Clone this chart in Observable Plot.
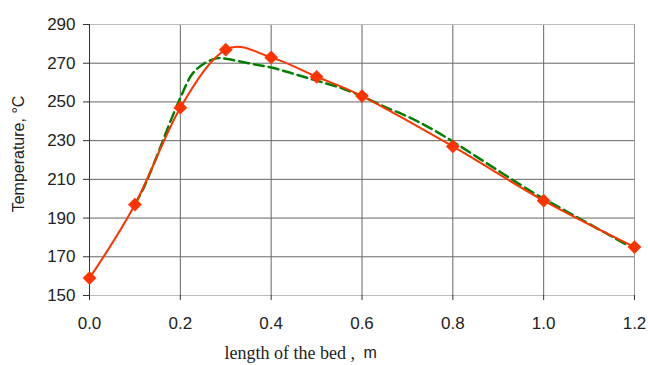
<!DOCTYPE html>
<html>
<head>
<meta charset="utf-8">
<script src="https://cdn.jsdelivr.net/npm/d3@7"></script>
<script src="https://cdn.jsdelivr.net/npm/@observablehq/plot@0.6"></script>
<style>
  html, body { margin: 0; padding: 0; background: white; }
</style>
</head>
<body>
<div id="chart"></div>
<script>
const xTicks = [0, 0.2, 0.4, 0.6, 0.8, 1.0, 1.2];
const yTicks = [150, 170, 190, 210, 230, 250, 270, 290];

// measured temperatures (red diamonds)
const measuredX = [0, 0.1, 0.2, 0.3, 0.4, 0.5, 0.6, 0.8, 1.0, 1.2];
const measuredT = [159, 197, 247, 277, 273, 263, 253, 227, 199, 175];

// model curve (green dashed)
const modelX = [0.1, 0.12, 0.15, 0.18, 0.2, 0.225, 0.25, 0.28, 0.3, 0.35, 0.4, 0.45, 0.5, 0.55, 0.6, 0.65, 0.7, 0.75, 0.8, 0.85, 0.9, 0.95, 1.0, 1.05, 1.1, 1.15, 1.2];
const modelT = [197, 206, 223, 241, 252, 264, 269.5, 272.5, 272.3, 270, 267.8, 264.5, 261, 257.5, 253, 247.5, 242.5, 236.5, 229.5, 222, 214.5, 207, 200, 193.5, 187, 180.5, 174];

const xLabel = "length of the bed ,";
const xUnit = "m";
const yLabel = "Temperature, °C";

const measured = measuredX.map((x, i) => ({x, t: measuredT[i]}));
const model = modelX.map((x, i) => ({x, t: modelT[i]}));

const chart = Plot.plot({
  width: 648,
  height: 365,
  marginLeft: 89,
  marginRight: 14,
  marginTop: 24,
  marginBottom: 70,
  x: {domain: [0, 1.2]},
  y: {domain: [150, 290]},
  style: {fontFamily: "'Liberation Sans', Arial, sans-serif", fontSize: "17px", color: "#222", background: "white"},
  marks: [
    Plot.ruleY(yTicks.filter(d => d > 150 && d < 290), {stroke: "#666", strokeWidth: 1}),
    Plot.ruleX(xTicks.filter(d => d > 0 && d < 1.2), {stroke: "#666", strokeWidth: 1}),
    Plot.ruleY([290], {stroke: "#bbb"}),
    Plot.ruleY([150], {stroke: "#bbb"}),
    Plot.ruleX([1.2], {stroke: "#999"}),
    Plot.ruleX([0], {stroke: "#333"}),
    Plot.axisY({ticks: yTicks, tickSize: 6, tickPadding: 8, label: null, stroke: "#333", fill: "#222", fontSize: 17}),
    Plot.axisX({ticks: xTicks, tickSize: 5, tickPadding: 16, tickFormat: d => d.toFixed(1), label: null, stroke: "#333", fill: "#222", fontSize: 17}),
    Plot.line(model, {x: "x", y: "t", stroke: "#008000", strokeWidth: 2.5, strokeDasharray: "10,5", curve: "catmull-rom"}),
    Plot.line(measured, {x: "x", y: "t", stroke: "#ff3300", strokeWidth: 2, curve: "cardinal", tension: 0}),
    Plot.dot(measured, {x: "x", y: "t", symbol: "diamond2", r: 6.2, fill: "#ff3300", stroke: "none"}),
    Plot.text([yLabel], {frameAnchor: "left", dx: -71, dy: -6, rotate: -90, textAnchor: "middle", lineAnchor: "middle", fontSize: 16, fill: "#222"}),
    Plot.text([xLabel], {frameAnchor: "bottom-left", dx: 135, dy: 58, textAnchor: "start", lineAnchor: "middle", fontFamily: "'Liberation Serif', 'Times New Roman', serif", fontSize: 18, fill: "#222"}),
    Plot.text([xUnit], {frameAnchor: "bottom-left", dx: 274, dy: 57, textAnchor: "start", lineAnchor: "middle", fontSize: 16, fill: "#222"})
  ]
});
document.getElementById("chart").appendChild(chart);
</script>
</body>
</html>
